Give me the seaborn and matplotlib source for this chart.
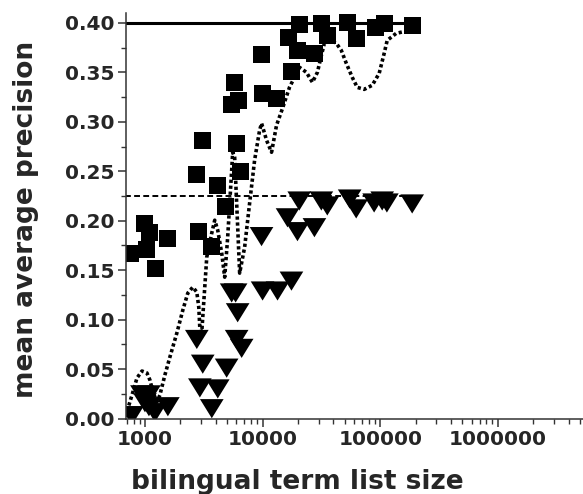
import numpy as np
import pandas as pd
import matplotlib
matplotlib.use("Agg")
import matplotlib.pyplot as plt
import seaborn as sns
from matplotlib.ticker import FixedLocator, FuncFormatter, MultipleLocator, LogLocator, NullFormatter

# squares (upper series)
sq_x = [747, 1000, 1103, 1040, 1240, 1567, 2870, 3700, 4850, 3100, 2760, 4160,
        6020, 6500, 5790, 5460, 6260, 9800, 10000, 13100, 17600, 16500, 19800,
        20500, 27600, 31600, 35500, 52500, 62500, 92000, 108000, 187000]
sq_y = [0.167, 0.197, 0.188, 0.171, 0.152, 0.182, 0.189, 0.174, 0.214, 0.281, 0.247, 0.236,
        0.278, 0.250, 0.340, 0.317, 0.322, 0.368, 0.329, 0.324, 0.351, 0.385, 0.372,
        0.398, 0.369, 0.399, 0.387, 0.400, 0.384, 0.395, 0.399, 0.397]

# triangles (lower series)
tri_x = [776, 943, 1081, 1000, 1081, 1566, 1215, 2760, 3100, 2930, 4160, 3700, 4950,
         5460, 5900, 6140, 6020, 6640, 9800, 10000, 13400, 17600, 16300, 19800, 27600,
         20500, 31600, 35500, 55000, 62500, 88800, 104000, 114000, 187000]
tri_y = [0.004, 0.025, 0.025, 0.017, 0.013, 0.013, 0.007, 0.081, 0.056, 0.032, 0.031, 0.011, 0.052,
         0.128, 0.128, 0.108, 0.081, 0.072, 0.185, 0.130, 0.130, 0.140, 0.204, 0.190, 0.194,
         0.221, 0.221, 0.216, 0.223, 0.213, 0.219, 0.221, 0.219, 0.218]

# dotted curve
curve_x = [690, 718, 776, 855, 943, 1040, 1102, 1169, 1264, 1340, 1477, 1629, 1867, 2099, 2314,
           2552, 2759, 2868, 2925, 3041, 3353, 3697, 3919, 4156, 4494, 4764, 5051, 5462,
           5569, 5790, 6022, 6385, 7039, 7759, 8554, 9432, 9806, 10812, 11921, 13143,
           14777, 16935, 20592, 23600, 26525, 29250, 31623, 33532, 38430, 42380, 46720,
           51510, 57900, 63850, 73170, 85540, 98060, 108100, 114700, 136700, 176200, 201900]
curve_y = [0.0015, 0.0106, 0.0237, 0.0409, 0.048, 0.046, 0.0389, 0.0268, 0.0167, 0.0237,
           0.0439, 0.0621, 0.0864, 0.1096, 0.1268, 0.1328, 0.1278, 0.1126, 0.0924, 0.0874,
           0.1631, 0.1874, 0.2005, 0.1904, 0.1672, 0.1429, 0.1833, 0.2510, 0.2692, 0.2641,
           0.2177, 0.147, 0.1732, 0.2177, 0.2611, 0.2914, 0.2985, 0.2813, 0.2692, 0.2965,
           0.3136, 0.3348, 0.3551, 0.35, 0.3399, 0.35, 0.3672, 0.3793, 0.3823, 0.3793,
           0.3722, 0.3591, 0.3449, 0.3348, 0.3328, 0.3369, 0.349, 0.3692, 0.3823, 0.3894,
           0.3924, 0.3955]

# reference levels
upper_level = 0.40
lower_level = 0.225
ref_span = [677, 210000]

x_ticks = [1000, 10000, 100000, 1000000]

sns.set_style("ticks")
plt.rcParams['font.family'] = ['DejaVu Sans']
plt.rcParams['font.weight'] = 'bold'

fig = plt.figure(figsize=(5.83, 4.94), dpi=100)
ax = fig.add_axes([126 / 583, 1 - 418.5 / 494, (583 - 126) / 583, (418.5 - 13) / 494])
ax.set_xscale('log')

ref = pd.DataFrame({'x': ref_span * 2,
                    'y': [upper_level] * 2 + [lower_level] * 2,
                    'kind': ['upper'] * 2 + ['lower'] * 2})
sns.lineplot(data=ref[ref.kind == 'upper'], x='x', y='y', color='black', lw=2.2, ax=ax)
sns.lineplot(data=ref[ref.kind == 'lower'], x='x', y='y', color='black', lw=1.4,
             linestyle=(0, (3, 1.7)), ax=ax)

sns.lineplot(x=curve_x, y=curve_y, sort=False, estimator=None, color='black', lw=2.6,
             linestyle=(0, (0.9, 0.75)), ax=ax)

# wide, flat downward triangle like the original
tri_marker = [(-1, 0.72), (1, 0.72), (0, -0.9)]

sns.scatterplot(x=sq_x, y=sq_y, marker='s', s=150, color='black', edgecolor='none', ax=ax)
sns.scatterplot(x=tri_x, y=tri_y, marker=tri_marker, s=290, color='black',
                edgecolor='none', ax=ax)

ax.set_xlim(690, 5.3e6)
ax.set_ylim(0, 0.41)

ax.xaxis.set_major_locator(FixedLocator(x_ticks))
ax.xaxis.set_major_formatter(FuncFormatter(lambda v, _: f"{int(round(v))}"))
ax.xaxis.set_minor_locator(LogLocator(base=10, subs=np.arange(2, 10)))
ax.xaxis.set_minor_formatter(NullFormatter())
ax.yaxis.set_major_locator(MultipleLocator(0.05))
ax.yaxis.set_minor_locator(MultipleLocator(0.025))
ax.yaxis.set_major_formatter(FuncFormatter(lambda v, _: f"{v:.2f}"))

ax.tick_params(axis='both', which='major', direction='out', length=5.5, width=1.1,
               labelsize=14.5, pad=3, color='#333333')
ax.tick_params(axis='both', which='minor', direction='out', length=3.5, width=1.0,
               color='#333333')
for lab in ax.get_xticklabels() + ax.get_yticklabels():
    lab.set_fontweight('bold')

sns.despine(ax=ax)
for side in ['left', 'bottom']:
    ax.spines[side].set_linewidth(1.1)
    ax.spines[side].set_color('#333333')

ax.set_xlabel('bilingual term list size', fontsize=19, fontweight='bold')
ax.set_ylabel('mean average precision', fontsize=19, fontweight='bold')
ax.xaxis.set_label_coords((297 - 126) / 457, (418.5 - 469) / 405.5)
ax.yaxis.set_label_coords((39 - 126) / 457, 0.49)

fig.savefig('out.png', dpi=100)
